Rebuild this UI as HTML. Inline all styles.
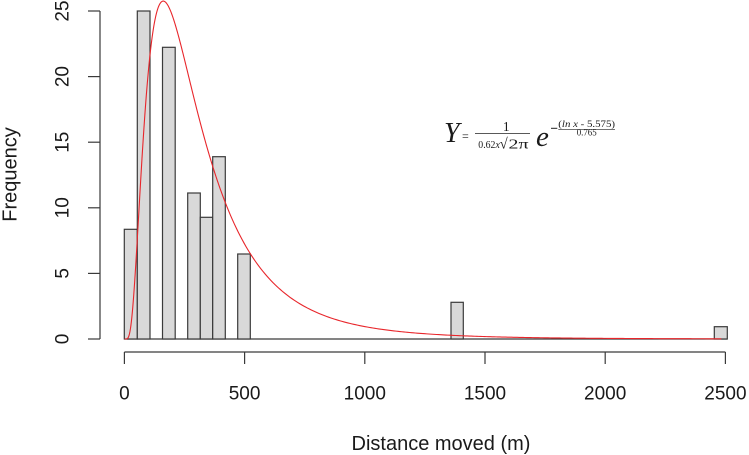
<!DOCTYPE html>
<html>
<head>
<meta charset="utf-8">
<style>
  html, body { margin:0; padding:0; background:#fff; }
  svg { display:block; }
  text { font-family: "Liberation Sans", sans-serif; fill:#1a1a1a; }
  .serif { font-family: "Liberation Serif", "DejaVu Serif", serif; }
</style>
</head>
<body>
<svg width="749" height="455" viewBox="0 0 749 455" xmlns="http://www.w3.org/2000/svg">
  <rect width="749" height="455" fill="#fff"/>

  <!-- baseline across histogram -->
  <line x1="124.3" y1="339" x2="727.3" y2="339" stroke="#3a3a3a" stroke-width="1.2"/>

  <!-- bars -->
  <g fill="#d9d9d9" stroke="#3a3a3a" stroke-width="1.2">
    <rect x="124.3" y="229.3" width="13" height="109.7"/>
    <rect x="137.3" y="11" width="12.7" height="328"/>
    <rect x="162.5" y="47.3" width="12.7" height="291.7"/>
    <rect x="187.7" y="193" width="12.6" height="146"/>
    <rect x="200.3" y="217.3" width="12.4" height="121.7"/>
    <rect x="212.7" y="156.7" width="12.6" height="182.3"/>
    <rect x="237.7" y="254" width="12.6" height="85"/>
    <rect x="451" y="302.3" width="12.3" height="36.7"/>
    <rect x="714.3" y="326.7" width="13" height="12.3"/>
  </g>

  <!-- fitted curve -->
  <path id="curve" d="" fill="none" stroke="#e8262b" stroke-width="1.1"/>

  <!-- Y axis -->
  <g stroke="#3a3a3a" stroke-width="1.2">
    <line x1="100" y1="11" x2="100" y2="339"/>
    <line x1="88" y1="339" x2="100" y2="339"/>
    <line x1="88" y1="273.4" x2="100" y2="273.4"/>
    <line x1="88" y1="207.8" x2="100" y2="207.8"/>
    <line x1="88" y1="142.2" x2="100" y2="142.2"/>
    <line x1="88" y1="76.6" x2="100" y2="76.6"/>
    <line x1="88" y1="11" x2="100" y2="11"/>
  </g>
  <g font-size="19" text-anchor="middle">
    <text transform="translate(68.5,339) rotate(-90)">0</text>
    <text transform="translate(68.5,273.4) rotate(-90)">5</text>
    <text transform="translate(68.5,207.8) rotate(-90)">10</text>
    <text transform="translate(68.5,142.2) rotate(-90)">15</text>
    <text transform="translate(68.5,76.6) rotate(-90)">20</text>
    <text transform="translate(68.5,11) rotate(-90)">25</text>
  </g>
  <text transform="translate(16.7,174.5) rotate(-90)" font-size="20" text-anchor="middle">Frequency</text>

  <!-- X axis -->
  <g stroke="#3a3a3a" stroke-width="1.2">
    <line x1="124.4" y1="352" x2="725.4" y2="352"/>
    <line x1="124.4" y1="352" x2="124.4" y2="364"/>
    <line x1="244.6" y1="352" x2="244.6" y2="364"/>
    <line x1="364.8" y1="352" x2="364.8" y2="364"/>
    <line x1="485" y1="352" x2="485" y2="364"/>
    <line x1="605.2" y1="352" x2="605.2" y2="364"/>
    <line x1="725.4" y1="352" x2="725.4" y2="364"/>
  </g>
  <g font-size="19" text-anchor="middle">
    <text x="124.4" y="399.3">0</text>
    <text x="244.6" y="399.3">500</text>
    <text x="364.8" y="399.3">1000</text>
    <text x="485" y="399.3">1500</text>
    <text x="605.2" y="399.3">2000</text>
    <text x="725.4" y="399.3">2500</text>
  </g>
  <text x="441" y="450" font-size="20" text-anchor="middle">Distance moved (m)</text>

  <!-- formula -->
  <g class="serif">
    <text class="serif" x="444" y="142" font-size="28" font-style="italic">Y</text>
    <text class="serif" x="462" y="140" font-size="12">=</text>
    <text class="serif" x="506.2" y="131" font-size="13.5" text-anchor="middle">1</text>
    <line x1="475" y1="133.6" x2="530" y2="133.6" stroke="#222" stroke-width="0.8"/>
    <text class="serif" x="478.3" y="148" font-size="10" textLength="21.5" lengthAdjust="spacingAndGlyphs">0.62<tspan font-style="italic">x</tspan></text>
    <text class="serif" x="499.5" y="148.5" font-size="15">√</text>
    <text class="serif" x="508.5" y="148.3" font-size="13.5" textLength="20" lengthAdjust="spacingAndGlyphs">2π</text>
    <text class="serif" x="536" y="146" font-size="29" font-style="italic">e</text>
    <line x1="551" y1="128.3" x2="557.3" y2="128.3" stroke="#222" stroke-width="1"/>
    <text class="serif" x="558.3" y="127" font-size="9.5" textLength="56.7" lengthAdjust="spacingAndGlyphs">(<tspan font-style="italic">ln x</tspan> - 5.575)</text>
    <line x1="558.3" y1="129.3" x2="615" y2="129.3" stroke="#222" stroke-width="0.7"/>
    <text class="serif" x="576.7" y="135.5" font-size="9.5" textLength="20" lengthAdjust="spacingAndGlyphs">0.765</text>
  </g>
</svg>
<script>
(function(){
  var mu = 5.5855, s = 0.71, K = 5335.6;
  var x0 = 124.5, sx = 0.2406, y0 = 339, sy = 13.12;
  var d = "";
  var u = 0.5;
  var first = true;
  while (u <= 2484) {
    var l = Math.log(u);
    var v = K / u * Math.exp(-(l - mu) * (l - mu) / (2 * s * s));
    var px = x0 + u * sx, py = y0 - v * sy;
    d += (first ? "M" : "L") + px.toFixed(2) + "," + py.toFixed(2);
    first = false;
    u += (u < 400 ? 2 : 8);
  }
  document.getElementById("curve").setAttribute("d", d);
})();
</script>
</body>
</html>
